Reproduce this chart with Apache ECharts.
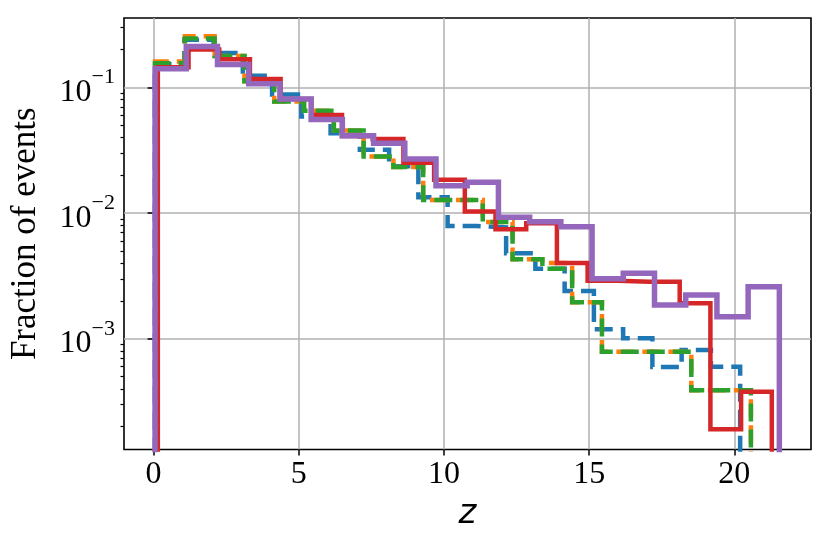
<!DOCTYPE html>
<html><head><meta charset="utf-8">
<script src="https://cdn.jsdelivr.net/npm/echarts@6/dist/echarts.min.js"></script>
<style>html,body{margin:0;padding:0;background:#fff}#c{width:830px;height:542px}</style>
</head><body><div id="c"></div>
<script>
// bin ranges (first edge, last edge) of each histogram, 20 equal bins each
const blueRange   = [0.05, 20.20];
const orangeRange = [0.05, 20.57];
const greenRange  = [0.05, 20.57];
const redRange    = [0.145, 21.29];
const purpleRange = [0.05, 21.55];

// fraction of events per bin
const blueFrac = [0.153, 0.240, 0.188, 0.124, 0.088, 0.0587, 0.0433, 0.0319, 0.0236, 0.0134,
                  0.0079, 0.0077, 0.0048, 0.0036, 0.0024, 0.00119, 0.00101, 0.000595, 0.000813, 0.00060];
const orangeFrac = [0.161, 0.255, 0.178, 0.112, 0.0773, 0.0652, 0.0454, 0.0282, 0.0233, 0.0127,
                    0.0127, 0.0085, 0.0043, 0.0040, 0.00195, 0.00079, 0.00079, 0.00079, 0.00039, 0.00039];
const greenFrac = [0.156, 0.245, 0.178, 0.112, 0.0773, 0.0652, 0.0454, 0.0282, 0.0233, 0.0127,
                   0.0127, 0.0085, 0.0043, 0.0036, 0.00195, 0.00079, 0.00079, 0.00079, 0.00039, 0.00039];
const redFrac = [0.145, 0.200, 0.168, 0.117, 0.081, 0.0605, 0.041, 0.0388, 0.0252, 0.0184,
                 0.0103, 0.00745, 0.0083, 0.0040, 0.0029, 0.00284, 0.00284, 0.00192, 0.000191, 0.000379];
const purpleFrac = [0.141, 0.212, 0.152, 0.107, 0.081, 0.0555, 0.0412, 0.0360, 0.0270, 0.0165,
                    0.0176, 0.00927, 0.00855, 0.0078, 0.00300, 0.00332, 0.00186, 0.00223, 0.00150, 0.0026];

const xTicks = [0, 5, 10, 15, 20];
const yMajor = [0.001, 0.01, 0.1];
const yMinor = [2e-4,3e-4,4e-4,5e-4,6e-4,7e-4,8e-4,9e-4,
                2e-3,3e-3,4e-3,5e-3,6e-3,7e-3,8e-3,9e-3,
                2e-2,3e-2,4e-2,5e-2,6e-2,7e-2,8e-2,9e-2,
                2e-1,3e-1];

const X_MIN = -1.02, X_MAX = 22.64, Y_MIN = 1.315e-4, Y_MAX = 0.357;

function steps(range, vals) {
  const n = vals.length, w = (range[1] - range[0]) / n, floor = 1e-6;
  const pts = [[range[0], floor]];
  for (let i = 0; i < n; i++) {
    const a = range[0] + i * w, b = range[0] + (i + 1) * w;
    pts.push([a, vals[i]], [b, vals[i]]);
  }
  pts.push([range[1], floor]);
  return pts;
}

function histSeries(name, range, vals, color, width, dashed, z) {
  return {
    name, type: 'line', data: steps(range, vals), showSymbol: false, symbol: 'none',
    clip: true, z, yAxisIndex: 0,
    lineStyle: { color, width, type: dashed ? [18, 8] : 'solid', cap: 'butt', join: 'miter' },
    emphasis: { disabled: true }, animation: false
  };
}

const chart = echarts.init(document.getElementById('c'), null, { renderer: 'canvas' });
const serif = 'Liberation Serif, Times New Roman, serif';
chart.setOption({
  animation: false,
  backgroundColor: '#fff',
  grid: { left: 123.5, right: 19, top: 18, bottom: 92.5, show: true,
          borderColor: '#000', borderWidth: 1.6, backgroundColor: 'transparent' },
  xAxis: {
    type: 'value', min: X_MIN, max: X_MAX,
    name: 'z', nameLocation: 'middle', nameGap: 48,
    nameTextStyle: { fontFamily: 'DejaVu Sans', fontStyle: 'italic', fontSize: 34, color: '#000' },
    axisLine: { show: false },
    axisTick: { show: true, length: 6, customValues: xTicks, lineStyle: { color: '#000', width: 1.5 } },
    axisLabel: { customValues: xTicks, margin: 9, fontFamily: serif, fontSize: 32, color: '#000' },
    splitLine: { show: true, lineStyle: { color: '#b0b0b0', width: 1.5 } }
  },
  yAxis: [{
    type: 'log', logBase: 10, min: Y_MIN, max: Y_MAX,
    name: 'Fraction of events', nameLocation: 'middle', nameGap: 81, nameRotate: 90,
    nameTextStyle: { fontFamily: serif, fontSize: 35, color: '#000' },
    axisLine: { show: false },
    axisTick: { show: true, length: 6, customValues: yMajor, lineStyle: { color: '#000', width: 1.5 } },
    axisLabel: {
      customValues: yMajor, margin: 9,
      formatter: v => '{b|10}{s|\u2212' + Math.round(-Math.log10(v)) + '}',
      rich: {
        b: { fontFamily: serif, fontSize: 32, color: '#000', lineHeight: 42, verticalAlign: 'bottom' },
        s: { fontFamily: serif, fontSize: 22, color: '#000', lineHeight: 42, verticalAlign: 'top' }
      }
    },
    splitLine: { show: true, lineStyle: { color: '#b0b0b0', width: 1.5 } }
  }, {
    type: 'log', logBase: 10, min: Y_MIN, max: Y_MAX, position: 'left',
    axisLine: { show: false },
    axisTick: { show: true, length: 3.5, customValues: yMinor, lineStyle: { color: '#000', width: 1.2 } },
    axisLabel: { show: false },
    splitLine: { show: false }
  }],
  series: [
    histSeries('blue', blueRange, blueFrac, '#1f77b4', 4.5, true, 2),
    histSeries('orange', orangeRange, orangeFrac, '#ff7f0e', 4.5, true, 3),
    histSeries('green', greenRange, greenFrac, '#2ca02c', 4.5, true, 4),
    histSeries('red', redRange, redFrac, '#d62728', 4.5, false, 5),
    histSeries('purple', purpleRange, purpleFrac, '#9467bd', 5.5, false, 6)
  ]
});
</script></body></html>
